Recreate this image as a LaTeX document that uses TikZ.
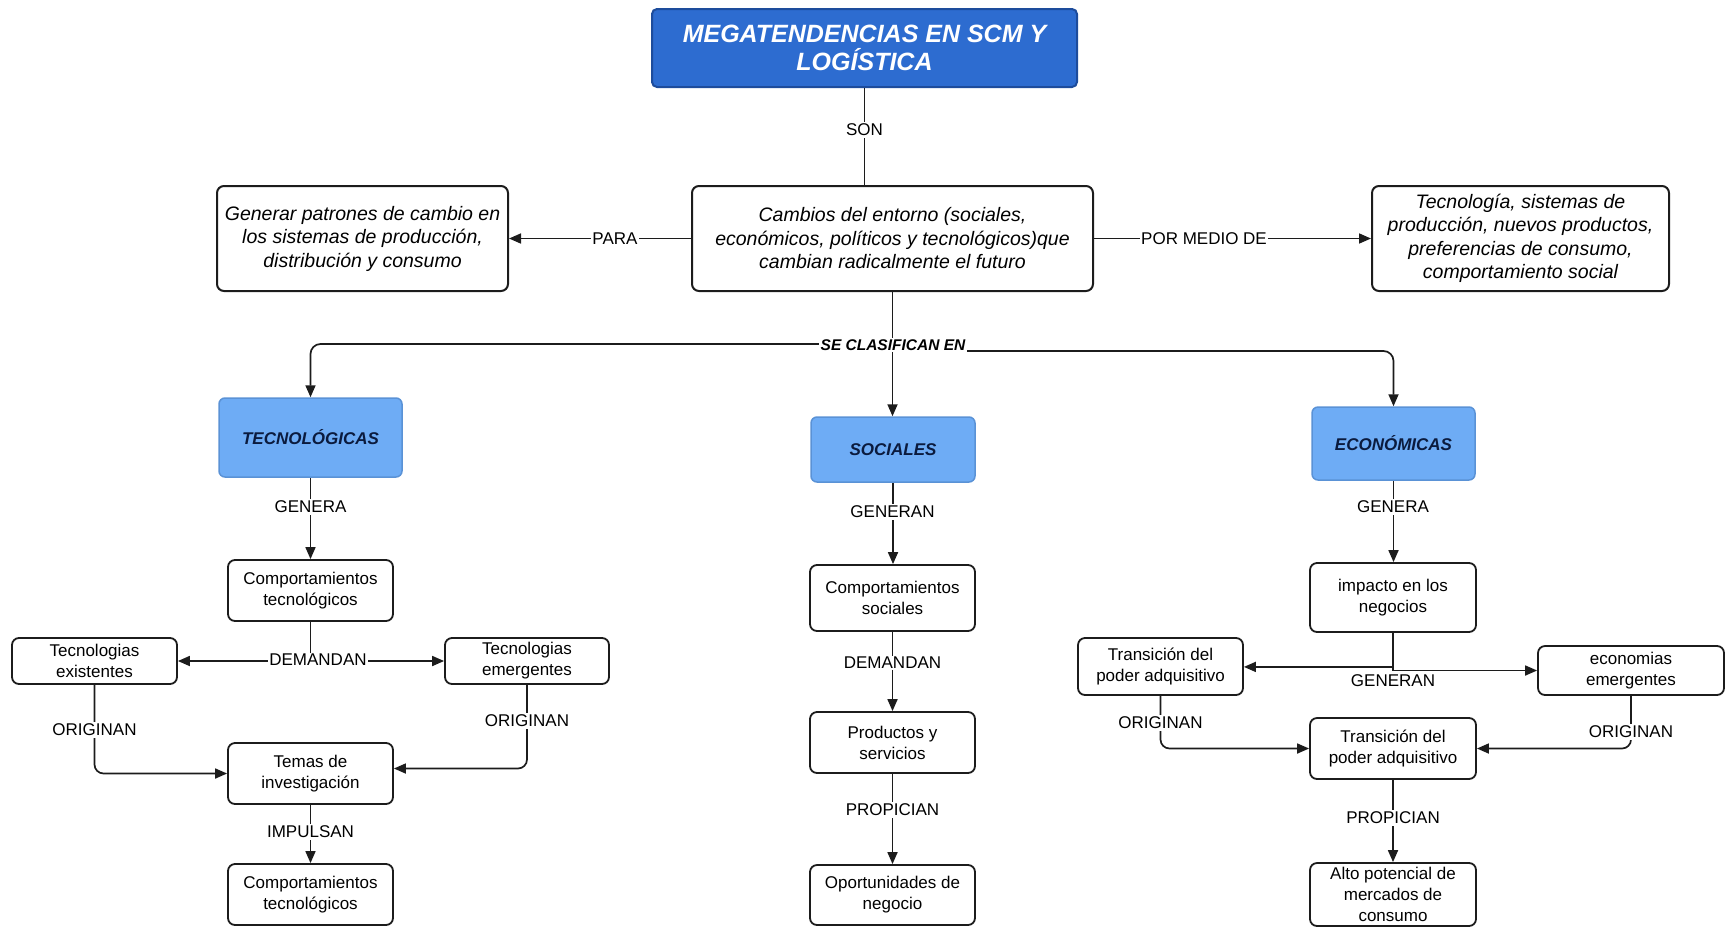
\documentclass[tikz,border=0pt]{standalone}
\usepackage{fontspec}
\setmainfont{Liberation Sans}
\usetikzlibrary{arrows.meta,calc}

\definecolor{titlefill}{HTML}{2D6CD0}
\definecolor{titleedge}{HTML}{1D4C9C}
\definecolor{catfill}{HTML}{6EACF5}
\definecolor{catedge}{HTML}{5A92D6}
\definecolor{cattext}{HTML}{0B1B3E}
\definecolor{ink}{HTML}{1C1C1C}

\tikzset{
  titlebox/.style={draw=titleedge, line width=2pt, fill=titlefill, rounded corners=5pt,
    text=white, font=\fontsize{25}{28.5}\selectfont\bfseries\itshape, align=center,
    minimum width=425pt, minimum height=78pt, inner sep=0pt},
  bigbox/.style={draw=ink, line width=2pt, rounded corners=7pt, fill=white, align=center,
    font=\fontsize{19.5}{23.5}\selectfont\itshape, inner sep=0pt, minimum height=105pt},
  catbox/.style={draw=catedge, line width=1.5pt, fill=catfill, rounded corners=6pt,
    text=cattext, font=\fontsize{17}{20}\selectfont\bfseries\itshape, inner sep=0pt},
  smallbox/.style={draw=ink, line width=1.8pt, rounded corners=7pt, fill=white, align=center,
    font=\fontsize{17}{21}\selectfont, inner sep=0pt, minimum width=165pt},
  lbl/.style={fill=white, font=\fontsize{17}{20}\selectfont, inner sep=1.5pt},
  conn/.style={draw=ink, line width=1.7pt},
  arr/.style={conn, -{Triangle[length=12pt,width=10pt]}},
  darr/.style={conn, {Triangle[length=12pt,width=10pt]}-{Triangle[length=12pt,width=10pt]}},
}

\begin{document}
\begin{tikzpicture}[x=1pt,y=-1pt]
\useasboundingbox (0,0) rectangle (1731,927);

% --- top level ---
\node[titlebox] (title) at (864.5,48) {MEGATENDENCIAS EN SCM Y\\LOGÍSTICA};
\node[bigbox, minimum width=401pt] (cambios) at (892.5,238.5)
  {Cambios del entorno (sociales,\\económicos, políticos y tecnológicos)que\\cambian radicalmente el futuro};
\node[bigbox, minimum width=291pt] (generar) at (362.5,238.5)
  {Generar patrones de cambio en\\los sistemas de producción,\\distribución y consumo};
\node[bigbox, minimum width=297pt] (medios) at (1520.5,238.5)
  {Tecnología, sistemas de\\producción, nuevos productos,\\preferencias de consumo,\\comportamiento social};

% --- categories ---
\node[catbox, minimum width=183pt, minimum height=79pt] (tecno) at (310.5,437.5) {TECNOLÓGICAS};
\node[catbox, minimum width=164pt, minimum height=65pt] (sociales) at (893,449.5) {SOCIALES};
\node[catbox, minimum width=163pt, minimum height=73pt] (econ) at (1393.5,443.5) {ECONÓMICAS};

% --- technological branch ---
\node[smallbox, minimum height=61pt] (ctec) at (310.5,590.5) {Comportamientos\\tecnológicos};
\node[smallbox, minimum height=46pt] (existentes) at (94.5,661) {Tecnologias\\existentes};
\node[smallbox, minimum width=164pt, minimum height=46pt] (emergentes) at (527,661) {Tecnologias\\emergentes};
\node[smallbox, minimum height=61pt] (temas) at (310.5,773.5) {Temas de\\investigación};
\node[smallbox, minimum height=61pt] (ctecb) at (310.5,894.5) {Comportamientos\\tecnológicos};

% --- social branch ---
\node[smallbox, minimum height=66pt] (csoc) at (892.5,598) {Comportamientos\\sociales};
\node[smallbox, minimum height=61pt] (productos) at (892.5,742.5) {Productos y\\servicios};
\node[smallbox, minimum height=60pt] (oportun) at (892.5,895) {Oportunidades de\\negocio};

% --- economic branch ---
\node[smallbox, minimum width=166pt, minimum height=69pt] (impacto) at (1393,597.5) {impacto en los\\negocios};
\node[smallbox, minimum height=57pt] (transL) at (1160.5,666.5) {Transición del\\poder adquisitivo};
\node[smallbox, minimum width=186pt, minimum height=49pt] (econem) at (1631,670.5) {economias\\emergentes};
\node[smallbox, minimum width=166pt, minimum height=61pt] (transM) at (1393,748.5) {Transición del\\poder adquisitivo};
\node[smallbox, minimum width=166pt, minimum height=63pt] (alto) at (1393,894.5) {Alto potencial de\\mercados de\\consumo};

% --- connectors, top ---
\draw[conn] (title.south) -- (title.south |- cambios.north);
\draw[arr] (cambios.west) -- (generar.east);
\draw[arr] (cambios.east) -- (medios.west);

% --- classification split ---
\draw[arr] (cambios.south) -- (cambios.south |- sociales.north);
\coordinate (splitL) at ($(cambios.south)+(0,52)$);
\coordinate (splitR) at ($(cambios.south)+(0,59)$);
\draw[arr, rounded corners=10pt] (splitL) -| (tecno.north);
\draw[arr, rounded corners=10pt] (splitR) -| (econ.north);

% --- technological branch connectors ---
\draw[arr] (tecno.south) -- (ctec.north);
\draw[conn] (ctec.south) -- (ctec.south |- existentes.east);
\draw[darr] (existentes.east) -- (emergentes.west);
\draw[arr, rounded corners=9pt] (existentes.south) |- (temas.west);
\draw[arr, rounded corners=9pt] (emergentes.south) |- ($(temas.east)+(0,-5)$);
\draw[arr] (temas.south) -- (ctecb.north);

% --- social branch connectors ---
\draw[arr] (sociales.south) -- (sociales.south |- csoc.north);
\draw[arr] (csoc.south) -- (productos.north);
\draw[arr] (productos.south) -- (oportun.north);

% --- economic branch connectors ---
\draw[arr] (econ.south) -- (econ.south |- impacto.north);
\draw[conn] (impacto.south) -- (impacto.south |- econem.west);
\coordinate (genL) at ($(impacto.south)+(0,34)$);
\draw[arr] (genL) -- (transL.east |- genL);
\draw[arr] (impacto.south |- econem.west) -- (econem.west);
\draw[arr, rounded corners=9pt] (transL.south) |- (transM.west);
\draw[arr, rounded corners=9pt] (econem.south) |- (transM.east);
\draw[arr] (transM.south) -- (alto.north);

% --- connector labels ---
\node[lbl] (son) at (864.5,130) {SON};
\node[lbl] (para) at (615,238.5) {PARA};
\node[lbl] (pormedio) at (1204,238.5) {POR MEDIO DE};
\node[lbl, font=\fontsize{15.5}{18}\selectfont\bfseries\itshape] (clasif) at (893,345) {SE CLASIFICAN EN};

\node[lbl] (genera1) at (310.5,507) {GENERA};
\node[lbl] (demandan1) at (318,660) {DEMANDAN};
\node[lbl] (originan1) at (94.5,730) {ORIGINAN};
\node[lbl] (originan2) at (527,721) {ORIGINAN};
\node[lbl] (impulsan) at (310.5,832) {IMPULSAN};

\node[lbl] (generan2) at (892.5,512) {GENERAN};
\node[lbl] (demandan2) at (892.5,663) {DEMANDAN};
\node[lbl] (propician2) at (892.5,810) {PROPICIAN};

\node[lbl] (genera3) at (1393,507) {GENERA};
\node[lbl, fill=none] (generan3) at (1393,681) {GENERAN};
\node[lbl] (originan3) at (1160.5,723) {ORIGINAN};
\node[lbl] (originan4) at (1631,732) {ORIGINAN};
\node[lbl] (propician3) at (1393,818) {PROPICIAN};
\end{tikzpicture}
\end{document}
